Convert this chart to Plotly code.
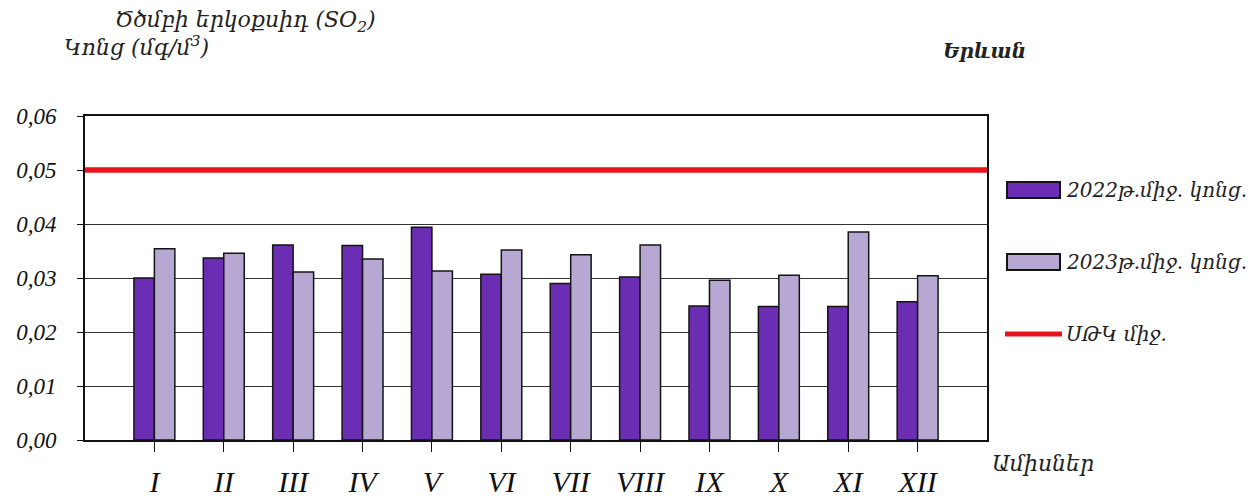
import plotly.graph_objects as go

months = ["I", "II", "III", "IV", "V", "VI", "VII", "VIII", "IX", "X", "XI", "XII"]
so2_2022 = [0.0300, 0.0337, 0.0361, 0.0360, 0.0394, 0.0307, 0.0290, 0.0302, 0.0248, 0.0247, 0.0247, 0.0256]
so2_2023 = [0.0354, 0.0346, 0.0311, 0.0335, 0.0313, 0.0352, 0.0343, 0.0361, 0.0296, 0.0305, 0.0385, 0.0304]
limit_value = 0.05
y_ticks = [0.00, 0.01, 0.02, 0.03, 0.04, 0.05, 0.06]

name_2022 = "2022թ.միջ. կոնց."
name_2023 = "2023թ.միջ. կոնց."
name_limit = "ՍԹԿ միջ."

C2022 = "#6B2DB3"
C2023 = "#B6A8D2"
CRED = "#E8141B"

FONT = "Liberation Serif, DejaVu Serif, serif"
ARM = "DejaVu Serif, Liberation Serif, serif"

W, H = 1257, 502
ML, MR, MT, MB = 85, 270, 116, 62
PW, PH = W - ML - MR, H - MT - MB


def px(x):
    return (x - ML) / PW


def py(y):
    return 1 - (y - MT) / PH


fig = go.Figure()
fig.add_trace(go.Bar(
    x=months, y=so2_2022, name=name_2022,
    marker=dict(color=C2022, line=dict(color="#141414", width=1.5)),
))
fig.add_trace(go.Bar(
    x=months, y=so2_2023, name=name_2023,
    marker=dict(color=C2023, line=dict(color="#141414", width=1.5)),
))
fig.add_trace(go.Scatter(
    x=[0, 1], y=[limit_value, limit_value], name=name_limit,
    mode="lines", line=dict(color=CRED, width=5.5),
    xaxis="x2", hoverinfo="skip",
))

fig.update_layout(
    width=W, height=H,
    margin=dict(l=ML, r=MR, t=MT, b=MB, autoexpand=False),
    paper_bgcolor="white", plot_bgcolor="white",
    separators=", ",
    barmode="group", bargap=0.41, bargroupgap=0.0,
    showlegend=False,
    xaxis=dict(
        type="category", range=[-1, 12], automargin=False,
        showline=True, linecolor="#111", linewidth=2, mirror=True,
        ticks="outside", ticklen=10, tickcolor="#111", tickwidth=1,
        tickfont=dict(family=FONT, size=30, color="#111", style="italic"),
        ticklabelstandoff=4,
        showgrid=False, zeroline=False,
    ),
    xaxis2=dict(overlaying="x", range=[0, 1], visible=False, fixedrange=True),
    yaxis=dict(
        range=[0, 0.06], tickvals=y_ticks, tickformat=".2f", automargin=False,
        showline=True, linecolor="#111", linewidth=2, mirror=True,
        ticks="outside", ticklen=6, tickcolor="#111",
        tickfont=dict(family=FONT, size=23, color="#111", style="italic"),
        showgrid=True, gridcolor="#333", gridwidth=1, zeroline=False,
        ticklabelstandoff=16,
    ),
)

anns = []
specs = [
    ("Ծծմբի երկօքսիդ (SO<sub>2</sub>)", 113, 21, 22),
    ("Կոնց (մգ/մ<sup>3</sup>)", 62, 46, 22),
    ("<b>Երևան</b>", 941, 51, 20),
    ("Ամիսներ", 990, 463, 22),
]
for text, x, y, sz in specs:
    anns.append(dict(
        text=text, showarrow=False, xref="paper", yref="paper",
        x=px(x), y=py(y), xanchor="left", yanchor="middle",
        font=dict(family=ARM, size=sz, color="#222", style="italic"),
    ))

# legend keys + labels to the right of the plot
legend_items = [
    (name_2022, C2022, "rect", 190),
    (name_2023, C2023, "rect", 262),
    (name_limit, CRED, "line", 334),
]
shapes = []
for name, color, kind, yc in legend_items:
    if kind == "rect":
        shapes.append(dict(
            type="rect", xref="paper", yref="paper",
            x0=px(1007), x1=px(1060), y0=py(yc - 8), y1=py(yc + 8),
            fillcolor=color, line=dict(color="#141414", width=2),
        ))
    else:
        shapes.append(dict(
            type="line", xref="paper", yref="paper",
            x0=px(1005), x1=px(1062), y0=py(yc), y1=py(yc),
            line=dict(color=color, width=5),
        ))
    anns.append(dict(
        text=name, showarrow=False, xref="paper", yref="paper",
        x=px(1064), y=py(yc), xanchor="left", yanchor="middle",
        font=dict(family=ARM, size=20, color="#222", style="italic"),
    ))

fig.update_layout(annotations=anns, shapes=shapes)

fig.write_html(
    "out.html",
    config={"displayModeBar": False},
    post_script="document.body.style.margin='0';document.body.style.overflow='hidden';",
)
